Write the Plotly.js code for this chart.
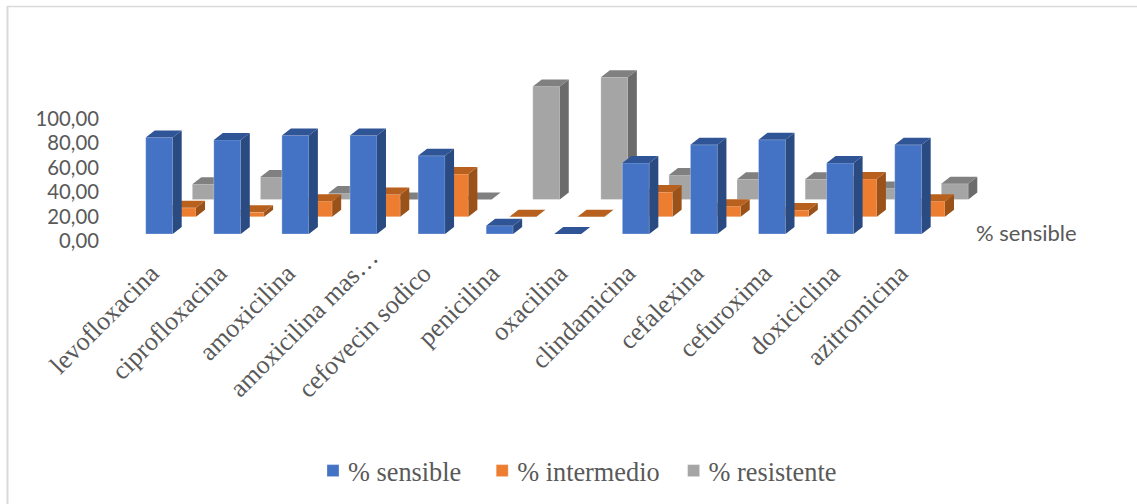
<!DOCTYPE html>
<html>
<head>
<meta charset="utf-8">
<script src="https://cdn.plot.ly/plotly-3.0.1.min.js"></script>
<style>html,body{margin:0;padding:0;background:#fff}#chart{width:1137px;height:504px}</style>
</head>
<body>
<div id="chart"></div>
<script>
// Susceptibility percentages per antibiotic
const categories = ['levofloxacina','ciprofloxacina','amoxicilina','amoxicilina mas…','cefovecin sodico','penicilina','oxacilina','clindamicina','cefalexina','cefuroxima','doxiciclina','azitromicina'];
const sensible   = [78.9,77.0,80.6,80.6,64.0,6.8,0,58.1,73.0,77.1,58.1,73.0];
const intermedio = [7.3,3.6,12.8,18.3,34.9,0,0,20.2,8.7,5.5,31.0,12.8];
const resistente = [12.5,18.5,5.4,0,0,92.5,100,20.1,16.6,16.6,9.0,13.0];
const yTicks = [0,20,40,60,80,100];

// Pixel geometry of the oblique 3D projection
const W = 1137, H = 504;
const M = {l:100, r:137, t:20, b:4};
const axisBottom = 250;                  // pixel row of the category axis
const pxX = 68.09, pxY = 1.222;          // pixels per category, pixels per percentage point
const tick0 = 159.2, zeroY = 241;        // pixel position of first category and of value 0
const barW = 27 / pxX;
const sideDX = 9 / pxX, sideDY = 7 / pxY;
const rowDX = 23.3 / pxX, rowDY = 14.1;
const base0 = 5.73;

const xRange = [(M.l - tick0) / pxX, (W - M.r - tick0) / pxX];
const yRange = [(zeroY - axisBottom) / pxY, (zeroY - M.t) / pxY];

const serif = '"Liberation Serif", serif';
const gridText = '#595959';

// Builds front, top and side faces of one row of columns
function row(name, vals, depth, front, top, side) {
  const offset = -barW / 2 + depth * rowDX;
  const base = base0 + depth * rowDY;
  const tx = [], ty = [], sx = [], sy = [];
  vals.forEach((v, i) => {
    const xl = i + offset, xr = xl + barW, yt = base + v;
    tx.push(xl, xr, xr + sideDX, xl + sideDX, xl, null);
    ty.push(yt, yt, yt + sideDY, yt + sideDY, yt, null);
    sx.push(xr, xr + sideDX, xr + sideDX, xr, xr, null);
    sy.push(base, base + sideDY, yt + sideDY, yt, base, null);
  });
  const z = (2 - depth) * 3;
  const edge = {color: 'rgba(255,255,255,0.35)', width: 0.8};
  return [
    {type: 'bar', name, x: vals.map((_, i) => i), y: vals, base, offset, width: barW,
     marker: {color: front, line: edge}, zorder: z},
    {type: 'scatter', mode: 'lines', x: sx, y: sy, fill: 'toself', fillcolor: side,
     line: {width: 0, color: side}, showlegend: false, hoverinfo: 'skip', zorder: z + 1},
    {type: 'scatter', mode: 'lines', x: tx, y: ty, fill: 'toself', fillcolor: top,
     line: {width: 0, color: top}, showlegend: false, hoverinfo: 'skip', zorder: z + 2}
  ];
}

const data = [
  ...row('% sensible', sensible, 0, '#4472C4', '#2F5597', '#2A4A82'),
  ...row('% intermedio', intermedio, 1, '#ED7D31', '#B8611F', '#9A5219'),
  ...row('% resistente', resistente, 2, '#A5A5A5', '#808080', '#6B6B6B')
];

// Paper-fraction helpers for the frame, legend and series label
const fx = px => (px - M.l) / (W - M.l - M.r);
const fy = py => 1 - (py - M.t) / (H - M.t - M.b);

const layout = {
  width: W, height: H, margin: M, autosize: false,
  paper_bgcolor: '#fff', plot_bgcolor: 'rgba(0,0,0,0)',
  separators: ',.', barmode: 'overlay', hovermode: false,
  xaxis: {
    type: 'linear', range: xRange, tickmode: 'array',
    tickvals: categories.map((_, i) => i), ticktext: categories, tickangle: -45,
    showgrid: false, zeroline: false, showline: false, ticks: '',
    ticklabelshift: -8, ticklabelstandoff: 2,
    tickfont: {family: serif, size: 26, color: gridText}
  },
  yaxis: {
    domain: [fy(axisBottom), 1],
    range: yRange, tickmode: 'array', tickvals: yTicks, tickformat: '.2f',
    showgrid: false, zeroline: false, showline: false, ticks: '',
    tickfont: {family: 'Lato, sans-serif', size: 20.3, color: gridText}
  },
  showlegend: true,
  legend: {
    orientation: 'h', xref: 'paper', yref: 'paper', x: fx(313), xanchor: 'left',
    y: fy(471), yanchor: 'middle', traceorder: 'normal',
    font: {family: serif, size: 26.3, color: gridText}, bgcolor: 'rgba(0,0,0,0)'
  },
  annotations: [{
    text: '% sensible', xref: 'paper', yref: 'paper', x: fx(974), y: fy(232),
    xanchor: 'left', yanchor: 'middle', showarrow: false,
    font: {family: 'Lato, sans-serif', size: 22, color: gridText}
  }],
  shapes: [
    {type: 'line', xref: 'paper', yref: 'paper', x0: fx(7), x1: fx(1137), y0: fy(6.5), y1: fy(6.5), line: {color: '#D9D9D9', width: 1.5}},
    {type: 'line', xref: 'paper', yref: 'paper', x0: fx(7.5), x1: fx(7.5), y0: fy(6), y1: fy(504), line: {color: '#D9D9D9', width: 2}}
  ]
};

Plotly.newPlot('chart', data, layout, {displayModeBar: false, staticPlot: true}).then(() => {
  // Legend spacing: swatch-to-label gap and a wider distance between entries
  document.querySelectorAll('#chart .legendtext').forEach(t => t.setAttribute('x', 35));
  const extra = [0, 11, 15];
  document.querySelectorAll('#chart .legend .traces').forEach((g, i) => {
    g.setAttribute('transform', `translate(${extra[i]},0) ` + (g.getAttribute('transform') || ''));
  });
  document.querySelectorAll('#chart .legend, #chart .legend .scrollbox').forEach(g => {
    g.removeAttribute('clip-path');
    g.style.clipPath = 'none';
  });
  // The truncated label sits further along its diagonal than the others
  document.querySelectorAll('#chart .xtick text').forEach(t => {
    if (t.textContent.endsWith('…')) {
      t.setAttribute('transform', 'translate(15,-16) ' + (t.getAttribute('transform') || ''));
    }
  });
});
</script>
</body>
</html>
